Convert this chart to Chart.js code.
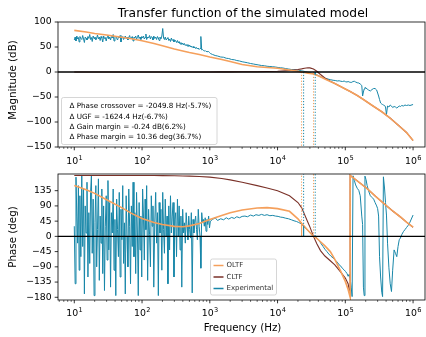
<!DOCTYPE html>
<html><head><meta charset="utf-8">
<script src="https://cdn.jsdelivr.net/npm/chart.js@4.4.0/dist/chart.umd.min.js"></script>
<style>
html,body{margin:0;padding:0;background:#fff;}
#wrap{position:relative;width:426px;height:337px;overflow:hidden;}
.pane{position:absolute;left:0;width:426px;}
</style></head><body>
<div id="wrap">
<div class="pane" style="top:0;height:170px"><canvas id="c1"></canvas></div>
<div class="pane" style="top:170px;height:167px"><canvas id="c2"></canvas></div>
</div>
<script>
// ---------------- DATA ----------------
const freqMajorTicks = [10, 100, 1000, 10000, 100000, 1000000];
const freqMajorExp = ['1', '2', '3', '4', '5', '6'];
const freqMinorMantissas = [2, 3, 4, 5, 6, 7, 8, 9];
const magTicks = [-150, -100, -50, 0, 50, 100];
const phaseTicks = [-180, -135, -90, -45, 0, 45, 90, 135];

// model (simulated) curves
const modelFreq = [10,15,20,30,50,70,100,150,200,300,
  400,500,700,1000,1500,2000,3000,5000,7000,10000,
  15000,20000,22600,25000,28000,30000,33900,38000,43000,50000,
  60000,70000,85000,100000,118000,150000,185000,250000,350000,457000,
  600000,800000,1000000];
const oltfMag = [83.3,80,77,74,69.5,66.5,62.5,57,52.5,46,
  42,39,35,30,25,21,15,10.5,9,7.5,
  4,1.5,0,-1,-2.3,-3,-3.9,-6.5,-9.5,-14,
  -19,-23,-29,-34,-39,-47,-55,-67,-80,-92,
  -106,-121,-137];
const cltfMag = [0,0,0,0,0,0,0,0,0,0,
  0,0,0,0.1,0.2,0.3,0.4,0.6,0.9,1.5,
  3,5,6.2,7.5,8.5,8.2,6,1.5,-5,-12,
  -18.5,-22.8,-29,-34,-39,-47,-55,-67,-80,-92,
  -106,-121,-137];

const phaseFreq = [10,15,20,30,50,70,100,150,200,300,
  400,500,700,1000,1500,2000,3000,5000,7000,10000,
  15000,20000,22600,25000,28000,30000,33900,38000,43000,50000,
  60000,70000,85000,100000,110000,118000,118000,150000,208000,280000,
  365000,500000,645000,800000,1000000];
const oltfPhase = [150,138,127,108,85,68,53,41,35,29.5,
  28.6,31,38,50,62,70,78,84,85,82,
  74,52,38.6,29,18,11.5,0,-6,-16,-28,
  -45,-68,-102,-133,-157,-180,180,164,142,118,
  98,75,58,42,27];
const cltfPhase = [180,180,180,180,180,180,180,180,179.5,179,
  178.5,178,177,175,171,167,160,150,143,135,
  120,100,85,65,42,28,0,-22,-42,-58,
  -72,-84,-105,-123,-140,-173,180,164,142,118,
  98,75,58,42,27];

// experimental (measured) data
const expFreq = [
  10,10.3,10.6,10.9,11.2,11.5,11.8,12.1,12.5,12.9,
  13.3,13.7,14.1,14.5,14.9,15.4,15.9,16.4,16.9,17.4,
  17.9,18.4,19,19.6,20.2,20.8,21.4,22,22.7,23.4,
  24.1,24.8,25.5,26.3,27.1,27.9,28.7,29.6,30.5,31.4,
  32.3,33.3,34.3,35.3,36.4,37.5,38.6,39.8,41,42.2,
  43.5,44.8,46.1,47.5,48.9,50.4,51.9,53.4,55,56.6,
  58.3,60,61.8,63.7,65.6,67.6,69.6,71.7,73.8,76,
  78.3,80.6,83,85.5,88,90.6,93.3,96.1,99,102,
  105,108,111,114,117,121,125,129,133,137,
  141,145,149,154,159,164,169,174,179,184,
  190,196,202,208,214,220,227,234,241,248,
  255,263,271,279,287,296,305,314,323,333,
  343,353,364,375,386,398,410,422,435,448,
  461,475,489,504,519,534,550,566,583,600,
  618,637,656,676,696,717,738,760,783,806,
  830,855,880,906,933,961,990,1020,1100,1200,
  1300,1450,1600,1750,1900,2100,2300,2500,2750,3000,
  3300,3600,4000,4400,4800,5300,5800,6400,7000,7700,
  8500,9300,10200,11000,12000,13000,14500,16000,17500,19000,
  20500,21500,22500,23500,24500,26000,28000,30000,32000,34000,
  36000,38500,41000,44000,47000,50000,53500,57000,61000,66000,
  71000,76000,81000,86000,91000,96000,101000,106000,110000,114000,
  118000,122000,126000,130000,136000,142000,150000,158000,166000,175000,
  180000,185000,190000,195000,202000,210000,220000,234000,248000,262000,
  275000,290000,300000,310000,320000,332000,345000,355000,365000,380000,
  392000,405000,420000,440000,460000,480000,500000,525000,550000,575000,
  600000,625000,650000,680000,720000,760000,800000,850000,900000,1000000];
const expMag = [
  64,70,62,72,66,69,60,71,67,65,
  73,66,59,70,68,64,71,67,75,65,
  69,61,72,67,70,64,68,74,66,70,
  63,71,68,60,72,67,69,62,70,73,
  66,70,64,71,68,75,62,69,72,67,
  64,70,68,73,60,69,71,65,68,72,
  67,70,64,69,73,66,68,71,62,70,
  68,72,66,69,74,67,70,65,71,68,
  72,66,69,76,65,70,68,73,66,71,
  69,64,72,67,70,65,71,68,63,70,
  66,72,87,68,65,70,64,67,69,63,
  66,61,68,63,65,60,64,62,59,63,
  58,61,56,59,55,58,54,57,53,55,
  52,55,51,54,50,52,49,51,48,50,
  47,49,46,48,45,47,71,44,45,43,
  42,43,41,42,40,41,39,37,35,33,
  32,30,29.5,27.5,27,25,24.5,23,22,20.5,
  19.5,18.5,17,16,15,14,13,12.5,11.5,11,
  10.5,10,9,8.5,8,7,6,5,4.5,4,
  3.5,3,2.5,2,1.5,0.5,-0.5,-1.5,-2.5,-3.5,
  -4.5,-6,-8,-10,-11.5,-12.5,-13.5,-14.5,-15.5,-16.5,
  -17,-18,-17.5,-18.5,-19,-18,-19.5,-20,-19,-20,
  -20.5,-21,-20,-19,-18.5,-20,-21.5,-22,-24,-27,
  -48,-40,-34,-31,-32,-34,-36,-38,-35,-33,
  -33,-36,-42,-48,-55,-62,-64,-65,-66,-67,
  -70,-85,-68,-70,-66,-68,-71,-69,-70,-72,
  -70,-68,-69,-67,-68,-66,-67,-66,-67,-65];
const expPhase = [
  30,-140,175,60,-20,150,-100,120,-60,180,
  -30,140,-170,90,10,160,-120,70,-80,130,
  180,-50,110,-175,40,150,-90,20,170,-130,
  60,-20,140,-110,90,-160,30,120,-70,165,
  -40,100,-150,70,10,140,-100,50,-175,110,
  20,-60,130,-120,80,-10,150,-80,40,-170,
  120,0,-90,140,30,-140,90,-30,160,-60,
  70,-110,130,10,-175,100,-40,60,-120,140,
  60,-70,110,20,150,-130,80,5,-90,120,
  30,90,-150,40,130,-20,70,-175,100,10,
  80,-100,130,20,-50,110,0,60,-140,90,
  -40,120,10,60,100,-120,50,70,-60,110,
  0,90,-40,60,-150,80,10,40,-20,70,
  30,-10,60,20,-5,70,-167,50,10,40,
  60,20,-10,80,30,0,-94,70,40,50,
  30,55,15,50,35,60,25,45,50,55,
  47,52,49,55,51,56,53,58,55,59,
  60,58,63,60,64,62,65,62,64,61,
  62,60,59,57,56,54,52,49,46,44,
  41,39,36,32,28,24,17,11,6,2,
  0,-6,-12,-22,-30,-38,-45,-52,-58,-64,
  -70,-76,-84,-88,-95,-99,-104,-110,-118,-112,
  -125,-150,-178,179,165,152,142,136,120,60,
  35,-150,-175,178,168,150,135,120,115,110,
  100,90,82,60,-60,-120,-165,-178,176,140,
  100,63,-20,-93,-140,-163,-100,-40,-50,-60,
  -30,-10,-5,5,14,20,26,33,42,63];

// stability margins (model vs experimental)
const ugfModel = 22620, ugfExp = 24245;
const pcModel = 33910, pcExp = 35960;
const gmGainModel = -3.87, gmGainExp = -4.11;
const pmModel = 38.6, pmExp = 28.2;
const annotationLines = [
  'Δ Phase crossover = -2049.8 Hz(-5.7%)',
  'Δ UGF = -1624.4 Hz(-6.7%)',
  'Δ Gain margin = -0.24 dB(6.2%)',
  'Δ Phase margin = 10.36 deg(36.7%)'];
const legendLabels = ['OLTF', 'CLTF', 'Experimental'];

// axis limits
const X_MIN = 5.75, X_MAX = 1.5e6;
const MAG_MIN = -150, MAG_MAX = 100;
const PH_MIN = -188, PH_MAX = 184.3;

// ---------------- STYLE ----------------
const ORANGE = '#f5a05c', BROWN = '#7a3128', BLUE = '#1786a8';
const FONT = '"DejaVu Sans", sans-serif';

const pts = (xs, ys) => xs.map((x, i) => ({x: x, y: ys[i]}));
const seg = (x0, y0, x1, y1) => [{x: x0, y: y0}, {x: x1, y: y1}];
const ds = (data, color, width, dash) => ({data: data, borderColor: color, borderWidth: width,
  borderDash: dash || [], pointRadius: 0, fill: false, tension: 0});
const DOT = [1.2, 1.7];

const fmt = v => v < 0 ? '\u2212' + Math.abs(v) : String(v);

const deco = {
  id: 'deco',
  afterDatasetsDraw(chart, args, o) {
    const ctx = chart.ctx, a = chart.chartArea, xs = chart.scales.x, ys = chart.scales.y;
    ctx.save();
    // spines
    ctx.strokeStyle = '#000'; ctx.lineWidth = 0.8;
    ctx.strokeRect(a.left, a.top, a.right - a.left, a.bottom - a.top);
    // y ticks
    ctx.beginPath();
    o.yticks.forEach(v => { const p = ys.getPixelForValue(v); ctx.moveTo(a.left, p); ctx.lineTo(a.left - 3.3, p); });
    // x major ticks
    freqMajorTicks.forEach(v => { const p = xs.getPixelForValue(v); ctx.moveTo(p, a.bottom); ctx.lineTo(p, a.bottom + 3.3); });
    ctx.stroke();
    ctx.beginPath(); ctx.lineWidth = 0.6;
    for (let d = 0; d <= 6; d++) {
      freqMinorMantissas.forEach(m => {
        const v = m * Math.pow(10, d);
        if (v >= X_MIN && v <= X_MAX) { const p = xs.getPixelForValue(v); ctx.moveTo(p, a.bottom); ctx.lineTo(p, a.bottom + 1.9); }
      });
    }
    ctx.stroke();
    // x tick labels 10^n
    ctx.fillStyle = '#000'; ctx.textAlign = 'left'; ctx.textBaseline = 'alphabetic';
    freqMajorTicks.forEach((v, i) => {
      const p = xs.getPixelForValue(v);
      ctx.font = '9.4px ' + FONT; const w1 = ctx.measureText('10').width;
      ctx.font = '6.6px ' + FONT; const w2 = ctx.measureText(freqMajorExp[i]).width;
      const x0 = p - (w1 + w2) / 2;
      ctx.font = '9.4px ' + FONT; ctx.fillText('10', x0, a.bottom + o.xlabBase);
      ctx.font = '6.6px ' + FONT; ctx.fillText(freqMajorExp[i], x0 + w1 + 0.3, a.bottom + o.xlabBase - 4);
    });
    // y axis label
    ctx.save();
    ctx.font = '10.3px ' + FONT; ctx.textAlign = 'center'; ctx.textBaseline = 'alphabetic';
    ctx.translate(16, o.ylabY); ctx.rotate(-Math.PI / 2); ctx.fillText(o.ylabel, 0, 0);
    ctx.restore();
    if (o.title) {
      ctx.font = '12.3px ' + FONT; ctx.textAlign = 'center'; ctx.textBaseline = 'alphabetic';
      ctx.fillText(o.title, 243, 16.5);
    }
    if (o.xlabel) {
      ctx.font = '10.3px ' + FONT; ctx.textAlign = 'center'; ctx.textBaseline = 'alphabetic';
      ctx.fillText(o.xlabel, (a.left + a.right) / 2 + 1, 160.5);
    }
    const box = (x, y, w, h) => {
      ctx.beginPath(); ctx.roundRect(x, y, w, h, 2);
      ctx.fillStyle = 'rgba(255,255,255,0.8)'; ctx.fill();
      ctx.strokeStyle = '#cccccc'; ctx.lineWidth = 0.8; ctx.stroke();
    };
    if (o.annot) {
      box(61.5, 97.5, 155.5, 47);
      ctx.fillStyle = '#000'; ctx.font = '7.2px ' + FONT; ctx.textAlign = 'left'; ctx.textBaseline = 'middle';
      annotationLines.forEach((t, i) => ctx.fillText(t, 69.5, 106.5 + i * 10.2));
    }
    if (o.legend) {
      const top = 259 - 170;
      box(210.5, top, 66, 36);
      const cols = [ORANGE, BROWN, BLUE];
      legendLabels.forEach((t, i) => {
        const yy = top + 6.5 + i * 11.5;
        ctx.strokeStyle = cols[i]; ctx.lineWidth = 1.5; ctx.setLineDash([]);
        ctx.beginPath(); ctx.moveTo(213.5, yy); ctx.lineTo(223.5, yy); ctx.stroke();
        ctx.fillStyle = '#333'; ctx.font = '7px ' + FONT; ctx.textAlign = 'left'; ctx.textBaseline = 'middle';
        ctx.fillText(t, 226.5, yy);
      });
    }
    ctx.restore();
  }
};

function makeOptions(yMin, yMax, yTicks, padTop, xHeight, decoOpts) {
  return {
    responsive: true, maintainAspectRatio: false, animation: false, parsing: true,
    layout: {padding: {top: padTop, right: 1, left: 0, bottom: 0}},
    plugins: {legend: {display: false}, tooltip: {enabled: false}, deco: decoOpts},
    elements: {point: {radius: 0}, line: {tension: 0}},
    scales: {
      x: {type: 'logarithmic', min: X_MIN, max: X_MAX,
        grid: {display: false, drawTicks: false}, border: {display: false}, ticks: {display: false},
        afterFit: s => { s.height = xHeight; s.paddingLeft = 0; s.paddingRight = 0; }},
      y: {type: 'linear', min: yMin, max: yMax,
        grid: {display: false, drawTicks: false}, border: {display: false},
        ticks: {color: '#000', font: {family: FONT, size: 9.3}, padding: 6.3, callback: v => fmt(v)},
        afterBuildTicks: s => { s.ticks = yTicks.map(v => ({value: v})); },
        afterFit: s => { s.width = 58; s.paddingTop = 0; s.paddingBottom = 0; }}
    }
  };
}

// -------- top: magnitude --------
new Chart(document.getElementById('c1'), {
  type: 'line',
  data: {datasets: [
    ds(seg(X_MIN, 0, X_MAX, 0), '#000', 1.4),
    ds(seg(ugfModel, 0, ugfModel, MAG_MIN), ORANGE, 1, DOT),
    ds(seg(ugfExp, 0, ugfExp, MAG_MIN), BLUE, 1, DOT),
    ds(seg(pcModel, gmGainModel, pcModel, MAG_MIN), ORANGE, 1, DOT),
    ds(seg(pcExp, gmGainExp, pcExp, MAG_MIN), BLUE, 1, DOT),
    ds(seg(pcModel, 0, pcModel, gmGainModel), ORANGE, 1),
    ds(seg(pcExp, 0, pcExp, gmGainExp), BLUE, 1),
    ds(pts(modelFreq, oltfMag), ORANGE, 1.6),
    ds(pts(modelFreq, cltfMag), BROWN, 1.1),
    ds(pts(expFreq, expMag), BLUE, 1)
  ]},
  options: makeOptions(MAG_MIN, MAG_MAX, magTicks, 22, 23,
    {yticks: magTicks, xlabBase: 17, ylabel: 'Magnitude (dB)', ylabY: 80,
     title: 'Transfer function of the simulated model', annot: true}),
  plugins: [deco]
});

// -------- bottom: phase --------
new Chart(document.getElementById('c2'), {
  type: 'line',
  data: {datasets: [
    ds(seg(X_MIN, 0, X_MAX, 0), '#000', 1.4),
    ds(seg(ugfModel, pmModel, ugfModel, PH_MAX), ORANGE, 1, DOT),
    ds(seg(ugfExp, pmExp, ugfExp, PH_MAX), BLUE, 1, DOT),
    ds(seg(pcModel, 0, pcModel, PH_MAX), ORANGE, 1, DOT),
    ds(seg(pcExp, 0, pcExp, PH_MAX), BLUE, 1, DOT),
    ds(seg(ugfModel, 0, ugfModel, pmModel), ORANGE, 1.2),
    ds(seg(ugfExp, 0, ugfExp, pmExp), BLUE, 1.2),
    ds(pts(phaseFreq, oltfPhase), ORANGE, 1.6),
    ds(pts(phaseFreq, cltfPhase), BROWN, 1.1),
    ds(pts(expFreq, expPhase), BLUE, 1)
  ]},
  options: makeOptions(PH_MIN, PH_MAX, phaseTicks, 4, 37,
    {yticks: phaseTicks, xlabBase: 15.5, ylabel: 'Phase (deg)', ylabY: 67,
     xlabel: 'Frequency (Hz)', legend: true}),
  plugins: [deco]
});
</script>
</body></html>
